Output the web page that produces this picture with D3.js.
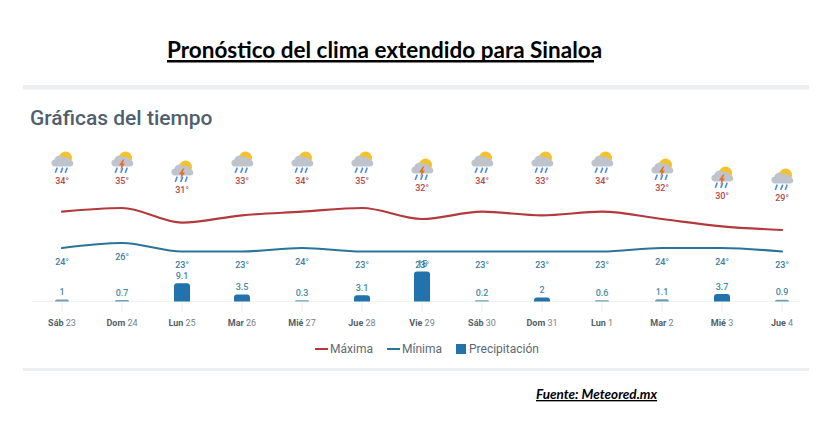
<!DOCTYPE html>
<html lang="es">
<head>
<meta charset="utf-8">
<title>Pronóstico del clima extendido para Sinaloa</title>
<script src="https://cdn.jsdelivr.net/npm/d3@7"></script>
<style>
  html, body { margin: 0; padding: 0; background: #fff; }
  svg { display: block; }
  text { font-family: Roboto, sans-serif; }
</style>
</head>
<body>
<svg id="chart" width="823" height="440"></svg>
<script>
// Forecast series for the thirteen days shown
const weekdays = ["Sáb","Dom","Lun","Mar","Mié","Jue","Vie","Sáb","Dom","Lun","Mar","Mié","Jue"];
const dayNumbers = [23,24,25,26,27,28,29,30,31,1,2,3,4];
const maxTemps = [34,35,31,33,34,35,32,34,33,34,32,30,29];
const minTemps = [24,26,23,23,24,23,23,23,23,23,24,24,23];
const rainfall = [1,0.7,9.1,3.5,0.3,3.1,15,0.2,2,0.6,1.1,3.7,0.9];
const storms = [false,true,true,false,false,false,true,false,false,false,true,true,false];
const legendEntries = ["Máxima","Mínima","Precipitación"];

const colors = { max: "#b23a3c", min: "#2a7499", bar: "#2272ab", barThin: "#6f9fb5",
                 band: "#eceef0", grid: "#eff1f2", heading: "#4f5f6d", maxText: "#b5494c",
                 minText: "#3f7d9b", barText: "#4a8aa6", day: "#525f6a", dayNum: "#77828b" };

const svg = d3.select("#chart");
const x = d3.scalePoint().domain(d3.range(weekdays.length)).range([62, 782]);
// Temperature axis is compressed towards the warm end, as the forecast widget draws it
const yTemp = d3.scaleLinear().domain([23,24,26,29,35]).range([251.5,248,243,230,208]);
const yRain = d3.scaleLinear().domain([0,15]).range([301.5,271.5]);
// Vertical slot of the icon and its label for each daily high
const yIconLabel = d3.scaleLinear().domain([29,30,31,32,33]).range([184+17,184+15,193,191,184]).clamp(true);

// Page heading and section separators
svg.append("text").attr("x",167).attr("y",58)
  .style("font-family","Lato, sans-serif").style("font-weight",700).style("font-size","22.5px")
  .attr("fill","#000").text("Pronóstico del clima extendido para Sinaloa");
svg.append("rect").attr("x",167).attr("y",60).attr("width",427).attr("height",2.5).attr("fill","#000");
svg.selectAll("rect.band").data([85,368]).join("rect").attr("class","band")
  .attr("x",23).attr("y",d=>d).attr("width",786).attr("height",d=>d===85?4.5:3).attr("fill",colors.band);
svg.append("text").attr("x",30).attr("y",125)
  .style("font-weight",500).style("font-size","21px").attr("fill",colors.heading).text("Gráficas del tiempo");

// Baseline and day ticks
svg.append("line").attr("x1",32).attr("x2",800).attr("y1",yRain(0)).attr("y2",yRain(0))
  .attr("stroke",colors.grid).attr("stroke-width",1);
svg.selectAll("line.tick").data(d3.range(weekdays.length)).join("line").attr("class","tick")
  .attr("x1",x).attr("x2",x).attr("y1",yRain(0)).attr("y2",312)
  .attr("stroke",colors.grid).attr("stroke-width",1);

// Precipitation bars with rounded tops
const barPath = (i) => {
  const w = rainfall[i] < 1.5 ? 14 : 16, h = Math.max(yRain(0)-yRain(rainfall[i]), 1.2), r = Math.min(3, h);
  const l = x(i)-w/2, b = yRain(0);
  return `M${l},${b}V${b-h+r}Q${l},${b-h} ${l+r},${b-h}H${l+w-r}Q${l+w},${b-h} ${l+w},${b-h+r}V${b}Z`;
};
svg.selectAll("path.bar").data(d3.range(weekdays.length)).join("path").attr("class","bar")
  .attr("d",barPath).attr("fill",i => rainfall[i] < 1.5 ? colors.barThin : colors.bar);
svg.selectAll("text.rain").data(d3.range(weekdays.length)).join("text").attr("class","rain")
  .attr("x",x).attr("y",i => Math.min(yRain(rainfall[i]), yRain(0)-1.5)-4.5).attr("text-anchor","middle")
  .style("font-size","9px").style("font-weight",500).attr("fill",colors.barText)
  .text(i => rainfall[i]);

// Temperature lines
const line = d3.line().x((d,i)=>x(i)).y(d=>yTemp(d)).curve(d3.curveMonotoneX);
[[maxTemps,colors.max],[minTemps,colors.min]].forEach(([values,color]) => {
  svg.append("path").attr("d",line(values)).attr("fill","none")
    .attr("stroke",color).attr("stroke-width",2.2).attr("stroke-linecap","round");
});

// Daily low labels beneath the line
svg.selectAll("text.low").data(minTemps).join("text").attr("class","low")
  .attr("x",(d,i)=>x(i)).attr("y",d=>yTemp(d)+16.5).attr("text-anchor","middle")
  .style("font-size","9px").style("font-weight",500).attr("fill",colors.minText).text(d=>d+"°");

// Weather icon: sun behind a cloud, rain streaks and an optional lightning bolt
const icons = svg.selectAll("g.icon").data(maxTemps).join("g").attr("class","icon")
  .attr("transform",(d,i)=>`translate(${x(i)},${yIconLabel(d)-21})`);
icons.append("circle").attr("cx",3.5).attr("cy",-5).attr("r",6.5).attr("fill","#f2c230");
icons.append("path")
  .attr("d","M-8,3.5a3.6,3.6 0 0 1 0.4,-7a5,5 0 0 1 9,-1.8a3.6,3.6 0 0 1 6,2.4a3.2,3.2 0 0 1 1.2,6.4z")
  .attr("fill","#bfc4cc");
icons.append("path")
  .attr("d","M-5,5.2l-1.5,4M0.5,5.2l-1.5,4M5,5.2l-1.5,4")
  .attr("stroke","#4f8fe0").attr("stroke-width",1.7).attr("stroke-linecap","round").attr("fill","none");
icons.filter((d,i)=>storms[i]).append("path")
  .attr("d","M1,-3.5L-3,2.2H-0.6L-1.8,7L3,0.6H0.5L2.4,-3.5z").attr("fill","#ea6a2a");

// Daily high labels beneath the icons
svg.selectAll("text.high").data(maxTemps).join("text").attr("class","high")
  .attr("x",(d,i)=>x(i)).attr("y",d=>yIconLabel(d)).attr("text-anchor","middle")
  .style("font-size","9px").style("font-weight",500).attr("fill",colors.maxText).text(d=>d+"°");

// Date labels
const dates = svg.selectAll("text.date").data(d3.range(weekdays.length)).join("text").attr("class","date")
  .attr("x",x).attr("y",326).attr("text-anchor","middle").style("font-size","9px");
dates.append("tspan").style("font-weight",700).attr("fill",colors.day).text(i=>weekdays[i]);
dates.append("tspan").attr("fill",colors.dayNum).text(i=>" "+dayNumbers[i]);

// Legend
const legendX = [315, 387, 456];
const legend = svg.selectAll("g.legend").data(legendEntries).join("g").attr("class","legend")
  .attr("transform",(d,i)=>`translate(${legendX[i]},349)`);
legend.filter((d,i)=>i<2).append("line").attr("x2",13).attr("stroke",(d,i)=>i===0?colors.max:colors.min).attr("stroke-width",2);
legend.filter((d,i)=>i===2).append("rect").attr("y",-5).attr("width",10).attr("height",10).attr("fill",colors.bar);
legend.append("text").attr("x",(d,i)=>i===2?13:15).attr("y",4)
  .style("font-size","12px").attr("fill","#5d6973").text(d=>d);

// Source note
svg.append("text").attr("x",536).attr("y",399)
  .style("font-family","Lato, sans-serif").style("font-weight",700).style("font-style","italic")
  .style("font-size","13.5px").style("text-decoration","underline").attr("fill","#000").text("Fuente: Meteored.mx");
</script>
</body>
</html>
